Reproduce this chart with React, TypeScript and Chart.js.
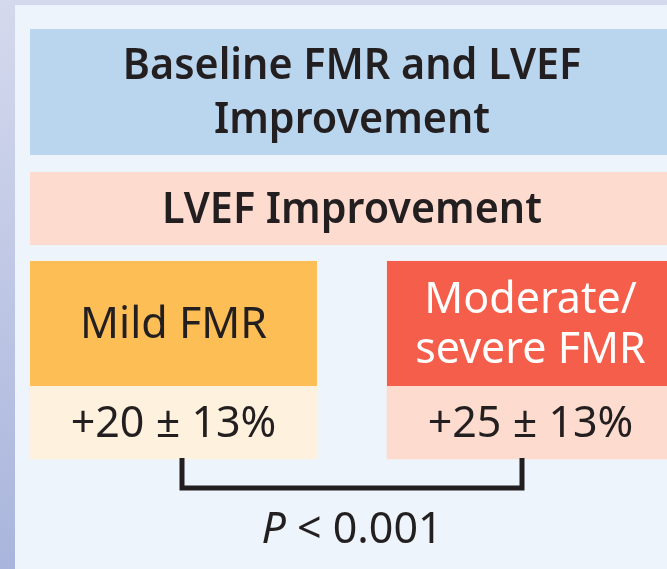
import { useEffect, useRef } from "react";
import { Chart, registerables } from "chart.js";

Chart.register(...registerables);

// ---- data ----
const titleLines = ["Baseline FMR and LVEF", "Improvement"];
const subtitle = "LVEF Improvement";
const categories = [["Mild FMR"], ["Moderate/", "severe FMR"]];
const meanImprovement = [20, 25];
const sdImprovement = [13, 13];
const pLabel = "P";
const pValue = "< 0.001";

// ---- styles ----
const W = 667;
const H = 569;
const FONT = "'Noto Sans', 'Open Sans', 'DejaVu Sans', sans-serif";
const INK = "#231f20";
const headerColors = ["#fdbe55", "#f45e4a"];
const headerTextColors = [INK, "#ffffff"];
const valueColors = ["#fef1dd", "#fddccf"];
const HEADER_H = 125;
const CAP_OFF = 14;

function drawText(
  ctx: CanvasRenderingContext2D,
  text: string,
  cx: number,
  baseline: number,
  font: string,
  color: string,
  sx: number
) {
  ctx.save();
  ctx.font = font;
  ctx.fillStyle = color;
  ctx.textAlign = "center";
  ctx.textBaseline = "alphabetic";
  ctx.translate(cx, baseline);
  ctx.scale(sx, 1);
  ctx.fillText(text, 0, 0);
  ctx.restore();
}

const BOLD = `600 43px ${FONT}`;
const REG = `400 43px ${FONT}`;
const BOLD_SX = 0.96;
const REG_SX = 1.0;

function columnCenters(chart: any) {
  const meta = chart.getDatasetMeta(0);
  return meta.data.map((b: any) => {
    const p = b.getProps(["x", "width"], true);
    return { x: p.x, width: p.width };
  });
}

const infographic = {
  id: "infographic",
  beforeDraw(chart: any) {
    const ctx: CanvasRenderingContext2D = chart.ctx;
    ctx.save();
    const g = ctx.createLinearGradient(0, 0, 0, H);
    g.addColorStop(0, "#d4d9ed");
    g.addColorStop(1, "#a9b5dc");
    ctx.fillStyle = g;
    ctx.fillRect(0, 0, W, H);
    ctx.fillStyle = "#edf4fc";
    ctx.fillRect(15, 5, W - 15, H - 5);

    const cols = columnCenters(chart);
    const mid = (cols[0].x + cols[cols.length - 1].x) / 2;

    // title box
    ctx.fillStyle = "#bad5ee";
    ctx.fillRect(30, 29, W - 30, 126);
    const tc = 29 + 126 / 2;
    const pitch = 54;
    titleLines.forEach((t, i) => {
      const b = tc - ((titleLines.length - 1) * pitch) / 2 + i * pitch + CAP_OFF;
      drawText(ctx, t, mid, b, BOLD, INK, BOLD_SX);
    });

    // subtitle box
    ctx.fillStyle = "#fddccf";
    ctx.fillRect(30, 172, W - 30, 73);
    drawText(ctx, subtitle, mid, 172 + 73 / 2 + CAP_OFF, BOLD, INK, BOLD_SX);
    ctx.restore();
  },
  afterDatasetsDraw(chart: any) {
    const ctx: CanvasRenderingContext2D = chart.ctx;
    const { top, bottom } = chart.chartArea;
    const cols = columnCenters(chart);
    ctx.save();
    cols.forEach((c: any, i: number) => {
      const left = c.x - c.width / 2;
      ctx.fillStyle = headerColors[i];
      ctx.fillRect(left, top, c.width, HEADER_H);
      const lines = categories[i];
      const hc = top + HEADER_H / 2;
      const lp = 50;
      lines.forEach((t, j) => {
        const b = hc - ((lines.length - 1) * lp) / 2 + j * lp + CAP_OFF;
        drawText(ctx, t, c.x, b, REG, headerTextColors[i], REG_SX);
      });
      const vc = (top + HEADER_H + bottom) / 2;
      drawText(
        ctx,
        `+${meanImprovement[i]} \u00b1 ${sdImprovement[i]}%`,
        c.x,
        vc + CAP_OFF,
        REG,
        INK,
        REG_SX
      );
    });

    // bracket
    const inset = 8.5;
    const x1 = cols[0].x + inset;
    const x2 = cols[cols.length - 1].x - inset;
    const yb = bottom + 29;
    ctx.strokeStyle = INK;
    ctx.lineWidth = 5;
    ctx.lineJoin = "miter";
    ctx.beginPath();
    ctx.moveTo(x1, bottom - 1);
    ctx.lineTo(x1, yb);
    ctx.lineTo(x2, yb);
    ctx.lineTo(x2, bottom - 1);
    ctx.stroke();

    // p value
    const mid = (x1 + x2) / 2;
    const pFont = `italic 400 43px ${FONT}`;
    ctx.font = pFont;
    const wP = ctx.measureText(pLabel + " ").width * REG_SX;
    ctx.font = REG;
    const wV = ctx.measureText(pValue).width * REG_SX;
    const start = mid - (wP + wV) / 2;
    const pb = 543;
    ctx.textAlign = "left";
    ctx.save();
    ctx.translate(start, pb);
    ctx.scale(REG_SX, 1);
    ctx.fillStyle = INK;
    ctx.font = pFont;
    ctx.fillText(pLabel, 0, 0);
    ctx.restore();
    ctx.save();
    ctx.translate(start + wP, pb);
    ctx.scale(REG_SX, 1);
    ctx.fillStyle = INK;
    ctx.font = REG;
    ctx.fillText(pValue, 0, 0);
    ctx.restore();
    ctx.restore();
  },
};

export default function App() {
  const ref = useRef<HTMLCanvasElement | null>(null);
  useEffect(() => {
    if (!ref.current) return;
    const chart = new Chart(ref.current, {
      type: "bar",
      data: {
        labels: categories,
        datasets: [
          {
            label: "LVEF improvement cell",
            data: categories.map(() => 1),
            backgroundColor: valueColors,
            borderWidth: 0,
            barThickness: 287,
            clip: false as any,
          },
        ],
      },
      options: {
        responsive: false,
        animation: false,
        devicePixelRatio: 1,
        layout: { padding: { left: 173.5, right: 136.5, top: 261, bottom: 110 } },
        plugins: { legend: { display: false }, tooltip: { enabled: false } },
        scales: {
          x: { type: "category", offset: false, display: false, grid: { display: false } },
          y: { type: "linear", min: 0, max: 1, display: false, grid: { display: false } },
        },
      },
      plugins: [infographic],
    });
    return () => chart.destroy();
  }, []);
  return (
    <div style={{ position: "absolute", left: 0, top: 0, width: W, height: H }}>
      <canvas ref={ref} width={W} height={H} style={{ display: "block" }} />
    </div>
  );
}
